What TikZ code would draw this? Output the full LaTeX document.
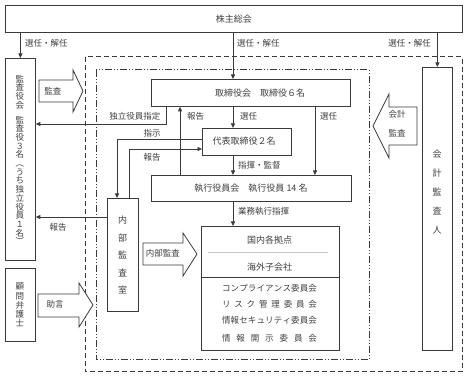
\documentclass[tikz,border=0pt]{standalone}
\usepackage{fontspec}
\setmainfont{Noto Sans CJK JP}
\usetikzlibrary{arrows.meta}
\definecolor{lc}{HTML}{3A3A3A}
\definecolor{tc}{HTML}{404040}
\newcommand\sprd[1]{\makebox[95pt][s]{#1}}
\begin{document}
\begin{tikzpicture}[x=1pt,y=-1pt,
  box/.style={draw=lc, line width=0.8pt, inner sep=0pt, anchor=north west},
  txt/.style={font=\fontsize{9}{10}\selectfont, text=tc, inner sep=0pt},
  lbl/.style={font=\fontsize{8.5}{10}\selectfont, text=tc, inner sep=0pt},
  arr/.style={draw=lc, line width=0.8pt, -{Triangle[length=4.5pt,width=4pt]}},
  blk/.style={draw=lc, line width=0.8pt, fill=white, line join=miter},
  outerdash/.style={draw=lc, line width=1pt, dash pattern=on 5pt off 3pt},
  innerdash/.style={draw=lc, line width=1pt, dash pattern=on 7pt off 2pt on 1pt off 2pt on 1pt off 2pt},
]
\useasboundingbox (0,0) rectangle (467,377);
\fill[white] (0,0) rectangle (467,377);

% frames
\draw[outerdash] (85,57) rectangle (462,372);
\draw[innerdash] (96,70) rectangle (369,360);

% boxes
\node[box, minimum width=457pt, minimum height=27pt] (gm) at (5,5) {};
\node[txt] (gmt) at (gm.center) {株主総会};
\node[box, minimum width=30pt, minimum height=202pt] (kansa) at (5,58) {};
\node[box, minimum width=30pt, minimum height=73pt] (komon) at (5,268) {};
\node[box, minimum width=199pt, minimum height=27pt] (board) at (151,79) {};
\node[box, minimum width=89pt, minimum height=27pt] (rep) at (202,128) {};
\node[box, minimum width=200pt, minimum height=26pt] (exec) at (151,175) {};
\node[box, minimum width=31pt, minimum height=113pt] (naibu) at (107,198) {};
\node[box, minimum width=138pt, minimum height=124pt] (kyoten) at (201,226) {};
\node[box, minimum width=30pt, minimum height=283pt] (auditor) at (422,67) {};

% box texts
\node[txt] (boardt) at (260,93) {取締役会　取締役６名};
\node[txt] (rept) at (244,141.5) {代表取締役２名};
\node[txt] (exect) at (251,188) {執行役員会　執行役員 14 名};
\node[txt, font=\fontsize{8.5}{8.7}\selectfont, align=center] (kansat) at (20,160)
  {監\\査\\役\\会\\[6pt]監\\査\\役\\３\\名\\︵\\う\\ち\\独\\立\\役\\員\\１\\名\\︶};
\node[txt, font=\fontsize{8.5}{9.2}\selectfont, align=center] (komont) at (20,305)
  {顧\\問\\弁\\護\\士};
\node[txt, font=\fontsize{9}{17.5}\selectfont, align=center] (naibut) at (122.5,255)
  {内\\部\\監\\査\\室};
\node[txt, font=\fontsize{9}{19}\selectfont, align=center] (auditort) at (437,192)
  {会\\計\\監\\査\\人};

% kyoten contents
\node[txt] (kk1) at (269.5,240) {国内各拠点};
\draw[gray!45, line width=1pt] (208,253) -- (328,253);
\node[txt] (kk2) at (269.5,267) {海外子会社};
\draw[draw=lc, line width=0.8pt] (kyoten.west |- 0,277) -- (kyoten.east |- 0,277);
\node[lbl] (c1) at (269.5,288) {\sprd{コ\hfil ン\hfil プ\hfil ラ\hfil イ\hfil ア\hfil ン\hfil ス\hfil 委\hfil 員\hfil 会}};
\node[lbl] (c2) at (269.5,304) {\sprd{リ\hfil ス\hfil ク\hfil 管\hfil 理\hfil 委\hfil 員\hfil 会}};
\node[lbl] (c3) at (269.5,320) {\sprd{情\hfil 報\hfil セ\hfil キ\hfil ュ\hfil リ\hfil テ\hfil ィ\hfil 委\hfil 員\hfil 会}};
\node[lbl] (c4) at (269.5,338) {\sprd{情\hfil 報\hfil 開\hfil 示\hfil 委\hfil 員\hfil 会}};

% block arrows
\draw[blk] (39,80) -- (73,80) -- (73,70) -- (83,91) -- (73,112) -- (73,102) -- (39,102) -- cycle;
\node[lbl] (kansaa) at (53,91) {監査};
\draw[blk] (143,243) -- (183,243) -- (183,233) -- (197,254) -- (183,276) -- (183,265) -- (143,265) -- cycle;
\node[lbl] (naibua) at (163,253) {内部監査};
\draw[blk] (38,294) -- (79,294) -- (79,283) -- (93,305) -- (79,327) -- (79,317) -- (38,317) -- cycle;
\node[lbl] (jogen) at (55,304) {助言};
\draw[blk] (417,107) -- (389,107) -- (389,94) -- (373,126) -- (389,158) -- (389,145) -- (417,145) -- cycle;
\node[lbl] (kaikei1) at (397,114) {会計};
\node[lbl] (kaikei2) at (397,133) {監査};

% coordinates
\coordinate (xa) at (233,0);
\coordinate (xi) at (166,0);
\coordinate (yi) at (0,124);
\coordinate (xr) at (180,0);
\coordinate (xs) at (315,0);
\coordinate (xo) at (117,0);
\coordinate (yo) at (0,139);
\coordinate (xh) at (129,0);
\coordinate (yh) at (0,149);
\coordinate (yk) at (0,217);

% connectors
\draw[arr] (gm.south -| kansa.north) -- (kansa.north);
\draw[arr] (gm.south -| xa) -- (board.north -| xa);
\draw[arr] (gm.south -| auditor.north) -- (auditor.north);
\draw[arr] (board.south -| xi) |- (kansa.east |- yi);
\draw[arr] (exec.north -| xr) -- (board.south -| xr);
\draw[arr] (board.south -| xa) -- (rep.north -| xa);
\draw[arr] (board.south -| xs) -- (exec.north -| xs);
\draw[arr] (rep.west |- yo) -| (naibu.north -| xo);
\draw[arr] (naibu.north -| xh) |- (rep.west |- yh);
\draw[arr] (rep.south -| xa) -- (exec.north -| xa);
\draw[arr] (exec.south -| xa) -- (kyoten.north -| xa);
\draw[arr] (naibu.west |- yk) -- (kansa.east |- yk);

% labels
\node[lbl, anchor=west] (l1) at (25,43) {選任・解任};
\node[lbl, anchor=west] (l2) at (237,43) {選任・解任};
\node[lbl, anchor=east] (l3) at (431,43) {選任・解任};
\node[lbl] (l4) at (135,116) {独立役員指定};
\node[lbl, anchor=west] (l5) at (187,116) {報告};
\node[lbl, anchor=west] (l6) at (240,116) {選任};
\node[lbl, anchor=west] (l7) at (320,116) {選任};
\node[lbl] (l8) at (152,133) {指示};
\node[lbl] (l9) at (152,157) {報告};
\node[lbl, anchor=west] (l10) at (238,165) {指揮・監督};
\node[lbl, anchor=west] (l11) at (238,211) {業務執行指揮};
\node[lbl] (l12) at (58,227) {報告};
\end{tikzpicture}
\end{document}
